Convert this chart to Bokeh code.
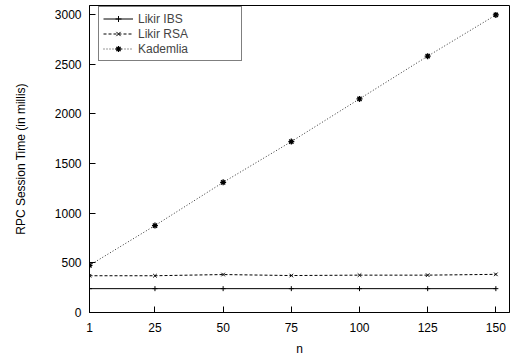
from bokeh.plotting import figure
from bokeh.models import Legend, LegendItem, FixedTicker
from bokeh.embed import file_html
from bokeh.resources import INLINE

n = [1, 25, 50, 75, 100, 125, 150]
likir_ibs = [240, 240, 240, 240, 240, 240, 240]
likir_rsa = [370, 370, 382, 372, 376, 376, 384]
kademlia = [475, 875, 1310, 1720, 2150, 2580, 2995]

x_ticks = [1, 25, 50, 75, 100, 125, 150]
y_ticks = [0, 500, 1000, 1500, 2000, 2500, 3000]

FONT = "Liberation Sans"

p = figure(width=512, height=358, output_backend="svg", toolbar_location=None,
           x_range=(1, 155), y_range=(0, 3090),
           min_border_left=89, min_border_right=3, min_border_top=5, min_border_bottom=44)
p.background_fill_color = "white"
p.border_fill_color = "white"
p.outline_line_color = "black"
p.outline_line_width = 1
p.xgrid.visible = False
p.ygrid.visible = False

r1 = p.line(n, likir_ibs, line_color="black", line_width=1)
m1 = p.scatter(n, likir_ibs, marker="cross", size=5, line_color="black")
r2 = p.line(n, likir_rsa, line_color="black", line_width=1, line_dash="3 2")
m2 = p.scatter(n, likir_rsa, marker="x", size=5, line_color="black")
r3 = p.line(n, kademlia, line_color="#333333", line_width=1, line_dash="1 2")
m3 = p.scatter(n, kademlia, marker="asterisk", size=6, line_color="black", line_width=1.3)

for ax in (p.xaxis[0], p.yaxis[0]):
    ax.major_tick_in = 6
    ax.major_tick_out = 0
    ax.minor_tick_in = 0
    ax.minor_tick_out = 0
    ax.axis_line_color = "black"
    ax.major_tick_line_color = "black"
    ax.major_label_text_font = FONT
    ax.major_label_text_font_size = "12px"
    ax.major_label_text_color = "black"
    ax.axis_label_text_font = FONT
    ax.axis_label_text_font_size = "12px"
    ax.axis_label_text_font_style = "normal"
    ax.axis_label_text_color = "black"

p.xaxis.ticker = FixedTicker(ticks=x_ticks)
p.yaxis.ticker = FixedTicker(ticks=y_ticks)
p.xaxis.axis_label = "n"
p.yaxis.axis_label = "RPC Session Time (in millis)"
p.xaxis.major_label_standoff = 10
p.yaxis.major_label_standoff = 8
p.xaxis.axis_label_standoff = 7
p.yaxis.axis_label_standoff = 24

legend = Legend(items=[
    LegendItem(label="Likir IBS", renderers=[r1, m1]),
    LegendItem(label="Likir RSA", renderers=[r2, m2]),
    LegendItem(label="Kademlia", renderers=[r3, m3]),
], location=(9, 251))
legend.label_text_font = FONT
legend.label_text_font_size = "12px"
legend.label_height = 15
legend.glyph_height = 15
legend.glyph_width = 30
legend.label_width = 99
legend.label_standoff = 5
legend.spacing = 0
legend.padding = 4
legend.margin = 0
legend.border_line_color = "black"
legend.border_line_width = 1
legend.background_fill_alpha = 1
p.add_layout(legend)

open("out.html", "w").write(file_html(p, INLINE))
